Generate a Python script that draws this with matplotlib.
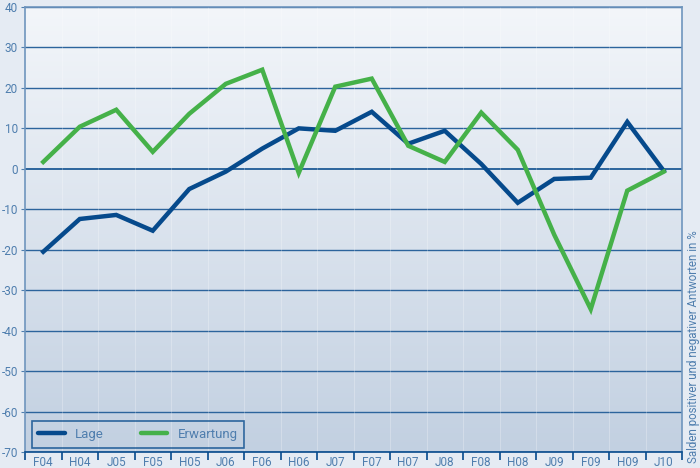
import matplotlib
matplotlib.use("Agg")
import matplotlib.pyplot as plt
import numpy as np
from matplotlib.colors import LinearSegmentedColormap

categories = ["F04", "H04", "J05", "F05", "H05", "J06", "F06", "H06", "J07",
              "F07", "H07", "J08", "F08", "H08", "J09", "F09", "H09", "J10"]
lage = [-20.5, -12.4, -11.4, -15.3, -5.0, -0.7, 5.0, 10.0, 9.4,
        14.1, 6.2, 9.4, 1.2, -8.4, -2.5, -2.2, 11.6, -0.5]
erwartung = [1.7, 10.4, 14.6, 4.2, 13.6, 21.0, 24.5, -1.0, 20.3,
             22.3, 5.7, 1.7, 13.9, 4.7, -16.3, -34.7, -5.4, -0.7]
yticks = [40, 30, 20, 10, 0, -10, -20, -30, -40, -50, -60, -70]

plt.rcParams['font.family'] = ['Roboto', 'DejaVu Sans']
lab_col = '#4f7eae'
grid_col = '#2c649c'
navy = '#064a8c'
green = '#45b149'

fig = plt.figure(figsize=(7, 4.68), dpi=100)
fig.patch.set_facecolor('#e5ebf3')
ax = fig.add_axes([25/700, 16/468, 657/700, 445/468])

x = np.arange(len(categories))
ax.set_xlim(-0.5, len(categories) - 0.5)
ax.set_ylim(-70, 40)

# gradient background
cmap = LinearSegmentedColormap.from_list('bg', ['#c2d0e1', '#f3f6fa'])
grad = np.linspace(0, 1, 256).reshape(-1, 1)
ax.imshow(grad, aspect='auto', cmap=cmap, origin='lower',
          extent=[0, 1, 0, 1], transform=ax.transAxes, zorder=0)

for v in yticks:
    ax.axhline(v, color=grid_col, lw=1.4 if v == 0 else 1.0, zorder=1)
for b in np.arange(0.5, len(categories) - 0.5, 1):
    ax.axvline(b, color='#ffffff', lw=0.6, alpha=0.3, zorder=1)

ax.plot(x, lage, color=navy, lw=3.2, label='Lage', zorder=3,
        solid_joinstyle='miter')
ax.plot(x, erwartung, color=green, lw=3.2, label='Erwartung', zorder=3,
        solid_joinstyle='miter')

ax.set_yticks(yticks)
ax.set_yticklabels([str(v) for v in yticks], color=lab_col, fontsize=8.5)
ax.tick_params(axis='y', length=3, color=lab_col, pad=2)

ax.set_xticks(np.arange(-0.5, len(categories), 1))
ax.set_xticklabels([])
ax.tick_params(axis='x', which='major', length=6, width=1.2, color=navy, direction='out')
ax.set_xticks(x, minor=True)
ax.set_xticklabels(categories, minor=True, color=lab_col, fontsize=8.5)
ax.tick_params(axis='x', which='minor', length=0, pad=3)

for s in ['left', 'right', 'top']:
    ax.spines[s].set_color('#6f95bd')
    ax.spines[s].set_linewidth(1.2)
ax.spines['bottom'].set_color(navy)
ax.spines['bottom'].set_linewidth(1.2)

leg = ax.legend(loc='lower left', bbox_to_anchor=(0.0, -0.005), ncol=2,
                frameon=True, fancybox=False, fontsize=9.5, handlelength=2.0,
                columnspacing=2.8, borderpad=0.5, handletextpad=0.8)
leg.get_frame().set_edgecolor(navy)
leg.get_frame().set_linewidth(1.2)
leg.get_frame().set_facecolor('none')
for t in leg.get_texts():
    t.set_color(lab_col)
for h in leg.get_lines():
    h.set_solid_capstyle('round')

fig.text(693/700, 5/468, 'Salden positiver und negativer Antworten in %',
         rotation=90, ha='center', va='bottom', color=lab_col, fontsize=8.3)

fig.savefig('out.png', dpi=100, facecolor=fig.get_facecolor())
